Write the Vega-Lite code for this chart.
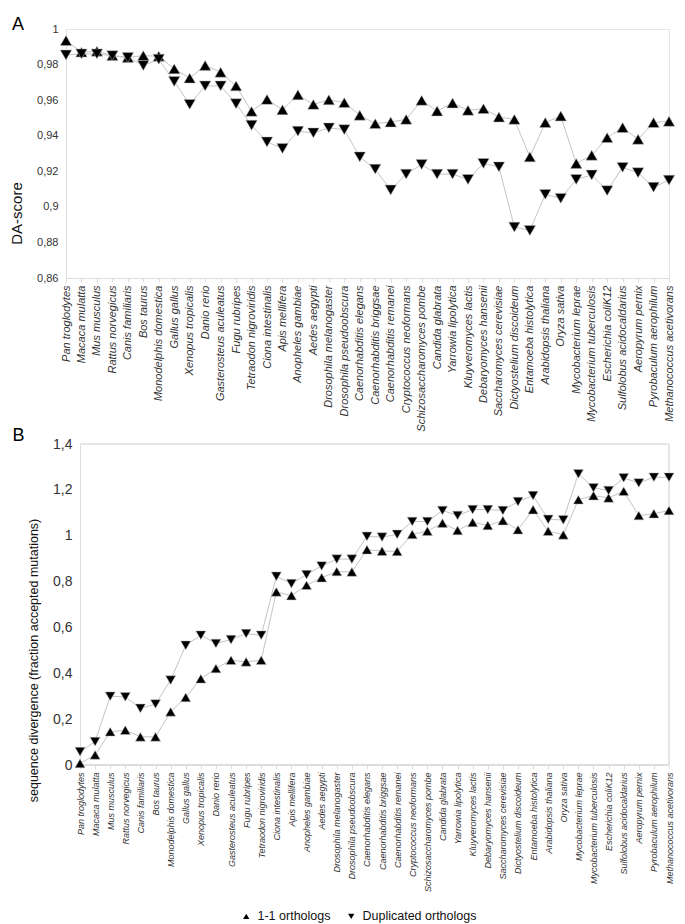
{
  "$schema": "https://vega.github.io/schema/vega-lite/v6.json",
  "background": "white",
  "padding": {"left": 9, "top": 15, "right": 5, "bottom": 5},
  "config": {
    "font": "Liberation Sans",
    "view": {"stroke": "#e6e6e6"},
    "axis": {"grid": false, "domainColor": "#dddddd", "tickColor": "#dddddd", "labelColor": "#333333", "titleColor": "#111111", "titleFontWeight": "normal"}
  },
  "datasets": {
    "da": [
      {"species": "Pan troglodytes", "type": "1-1 orthologs", "value": 0.9935},
      {"species": "Macaca mulatta", "type": "1-1 orthologs", "value": 0.987},
      {"species": "Mus musculus", "type": "1-1 orthologs", "value": 0.9875},
      {"species": "Rattus norvegicus", "type": "1-1 orthologs", "value": 0.985},
      {"species": "Canis familiaris", "type": "1-1 orthologs", "value": 0.984},
      {"species": "Bos taurus", "type": "1-1 orthologs", "value": 0.985},
      {"species": "Monodelphis domestica", "type": "1-1 orthologs", "value": 0.9847},
      {"species": "Gallus gallus", "type": "1-1 orthologs", "value": 0.9776},
      {"species": "Xenopus tropicalis", "type": "1-1 orthologs", "value": 0.9724},
      {"species": "Danio rerio", "type": "1-1 orthologs", "value": 0.9795},
      {"species": "Gasterosteus aculeatus", "type": "1-1 orthologs", "value": 0.9757},
      {"species": "Fugu rubripes", "type": "1-1 orthologs", "value": 0.968},
      {"species": "Tetraodon nigroviridis", "type": "1-1 orthologs", "value": 0.9537},
      {"species": "Ciona intestinalis", "type": "1-1 orthologs", "value": 0.9604},
      {"species": "Apis mellifera", "type": "1-1 orthologs", "value": 0.9546},
      {"species": "Anopheles gambiae", "type": "1-1 orthologs", "value": 0.963},
      {"species": "Aedes aegypti", "type": "1-1 orthologs", "value": 0.9576},
      {"species": "Drosophila melanogaster", "type": "1-1 orthologs", "value": 0.9602},
      {"species": "Drosophila pseudoobscura", "type": "1-1 orthologs", "value": 0.9586},
      {"species": "Caenorhabditis elegans", "type": "1-1 orthologs", "value": 0.9515},
      {"species": "Caenorhabditis briggsae", "type": "1-1 orthologs", "value": 0.9468},
      {"species": "Caenorhabditis remanei", "type": "1-1 orthologs", "value": 0.9477},
      {"species": "Cryptococcus neoformans", "type": "1-1 orthologs", "value": 0.9492},
      {"species": "Schizosaccharomyces pombe", "type": "1-1 orthologs", "value": 0.9599},
      {"species": "Candida glabrata", "type": "1-1 orthologs", "value": 0.9539},
      {"species": "Yarrowia lipolytica", "type": "1-1 orthologs", "value": 0.9584},
      {"species": "Kluyveromyces lactis", "type": "1-1 orthologs", "value": 0.9543},
      {"species": "Debaryomyces hansenii", "type": "1-1 orthologs", "value": 0.9552},
      {"species": "Saccharomyces cerevisiae", "type": "1-1 orthologs", "value": 0.9505},
      {"species": "Dictyostelium discoideum", "type": "1-1 orthologs", "value": 0.9492},
      {"species": "Entamoeba histolytica", "type": "1-1 orthologs", "value": 0.9281},
      {"species": "Arabidopsis thaliana", "type": "1-1 orthologs", "value": 0.9474},
      {"species": "Oryza sativa", "type": "1-1 orthologs", "value": 0.9511},
      {"species": "Mycobacterium leprae", "type": "1-1 orthologs", "value": 0.9244},
      {"species": "Mycobacterium tuberculosis", "type": "1-1 orthologs", "value": 0.929},
      {"species": "Escherichia coliK12", "type": "1-1 orthologs", "value": 0.9389},
      {"species": "Sulfolobus acidocaldarius", "type": "1-1 orthologs", "value": 0.9446},
      {"species": "Aeropyrum pernix", "type": "1-1 orthologs", "value": 0.938},
      {"species": "Pyrobaculum aerophilum", "type": "1-1 orthologs", "value": 0.9474},
      {"species": "Methanococcus acetivorans", "type": "1-1 orthologs", "value": 0.9481},
      {"species": "Pan troglodytes", "type": "Duplicated orthologs", "value": 0.9854},
      {"species": "Macaca mulatta", "type": "Duplicated orthologs", "value": 0.986},
      {"species": "Mus musculus", "type": "Duplicated orthologs", "value": 0.986},
      {"species": "Rattus norvegicus", "type": "Duplicated orthologs", "value": 0.985},
      {"species": "Canis familiaris", "type": "Duplicated orthologs", "value": 0.984},
      {"species": "Bos taurus", "type": "Duplicated orthologs", "value": 0.9795},
      {"species": "Monodelphis domestica", "type": "Duplicated orthologs", "value": 0.983},
      {"species": "Gallus gallus", "type": "Duplicated orthologs", "value": 0.9705},
      {"species": "Xenopus tropicalis", "type": "Duplicated orthologs", "value": 0.9576},
      {"species": "Danio rerio", "type": "Duplicated orthologs", "value": 0.968},
      {"species": "Gasterosteus aculeatus", "type": "Duplicated orthologs", "value": 0.968},
      {"species": "Fugu rubripes", "type": "Duplicated orthologs", "value": 0.958},
      {"species": "Tetraodon nigroviridis", "type": "Duplicated orthologs", "value": 0.9459},
      {"species": "Ciona intestinalis", "type": "Duplicated orthologs", "value": 0.9365},
      {"species": "Apis mellifera", "type": "Duplicated orthologs", "value": 0.9328},
      {"species": "Anopheles gambiae", "type": "Duplicated orthologs", "value": 0.9425},
      {"species": "Aedes aegypti", "type": "Duplicated orthologs", "value": 0.9416},
      {"species": "Drosophila melanogaster", "type": "Duplicated orthologs", "value": 0.9444},
      {"species": "Drosophila pseudoobscura", "type": "Duplicated orthologs", "value": 0.9434},
      {"species": "Caenorhabditis elegans", "type": "Duplicated orthologs", "value": 0.9281},
      {"species": "Caenorhabditis briggsae", "type": "Duplicated orthologs", "value": 0.9212},
      {"species": "Caenorhabditis remanei", "type": "Duplicated orthologs", "value": 0.9095},
      {"species": "Cryptococcus neoformans", "type": "Duplicated orthologs", "value": 0.9184},
      {"species": "Schizosaccharomyces pombe", "type": "Duplicated orthologs", "value": 0.9238},
      {"species": "Candida glabrata", "type": "Duplicated orthologs", "value": 0.9184},
      {"species": "Yarrowia lipolytica", "type": "Duplicated orthologs", "value": 0.9184},
      {"species": "Kluyveromyces lactis", "type": "Duplicated orthologs", "value": 0.9154},
      {"species": "Debaryomyces hansenii", "type": "Duplicated orthologs", "value": 0.9244},
      {"species": "Saccharomyces cerevisiae", "type": "Duplicated orthologs", "value": 0.9225},
      {"species": "Dictyostelium discoideum", "type": "Duplicated orthologs", "value": 0.8886},
      {"species": "Entamoeba histolytica", "type": "Duplicated orthologs", "value": 0.8867},
      {"species": "Arabidopsis thaliana", "type": "Duplicated orthologs", "value": 0.907},
      {"species": "Oryza sativa", "type": "Duplicated orthologs", "value": 0.9048},
      {"species": "Mycobacterium leprae", "type": "Duplicated orthologs", "value": 0.9154},
      {"species": "Mycobacterium tuberculosis", "type": "Duplicated orthologs", "value": 0.9179},
      {"species": "Escherichia coliK12", "type": "Duplicated orthologs", "value": 0.9091},
      {"species": "Sulfolobus acidocaldarius", "type": "Duplicated orthologs", "value": 0.9222},
      {"species": "Aeropyrum pernix", "type": "Duplicated orthologs", "value": 0.9192},
      {"species": "Pyrobaculum aerophilum", "type": "Duplicated orthologs", "value": 0.911},
      {"species": "Methanococcus acetivorans", "type": "Duplicated orthologs", "value": 0.915}
    ],
    "div": [
      {"species": "Pan troglodytes", "type": "1-1 orthologs", "value": 0.007},
      {"species": "Macaca mulatta", "type": "1-1 orthologs", "value": 0.044},
      {"species": "Mus musculus", "type": "1-1 orthologs", "value": 0.145},
      {"species": "Rattus norvegicus", "type": "1-1 orthologs", "value": 0.152},
      {"species": "Canis familiaris", "type": "1-1 orthologs", "value": 0.123},
      {"species": "Bos taurus", "type": "1-1 orthologs", "value": 0.123},
      {"species": "Monodelphis domestica", "type": "1-1 orthologs", "value": 0.232},
      {"species": "Gallus gallus", "type": "1-1 orthologs", "value": 0.295},
      {"species": "Xenopus tropicalis", "type": "1-1 orthologs", "value": 0.376},
      {"species": "Danio rerio", "type": "1-1 orthologs", "value": 0.421},
      {"species": "Gasterosteus aculeatus", "type": "1-1 orthologs", "value": 0.457},
      {"species": "Fugu rubripes", "type": "1-1 orthologs", "value": 0.45},
      {"species": "Tetraodon nigroviridis", "type": "1-1 orthologs", "value": 0.457},
      {"species": "Ciona intestinalis", "type": "1-1 orthologs", "value": 0.755},
      {"species": "Apis mellifera", "type": "1-1 orthologs", "value": 0.739},
      {"species": "Anopheles gambiae", "type": "1-1 orthologs", "value": 0.784},
      {"species": "Aedes aegypti", "type": "1-1 orthologs", "value": 0.817},
      {"species": "Drosophila melanogaster", "type": "1-1 orthologs", "value": 0.844},
      {"species": "Drosophila pseudoobscura", "type": "1-1 orthologs", "value": 0.842},
      {"species": "Caenorhabditis elegans", "type": "1-1 orthologs", "value": 0.939},
      {"species": "Caenorhabditis briggsae", "type": "1-1 orthologs", "value": 0.933},
      {"species": "Caenorhabditis remanei", "type": "1-1 orthologs", "value": 0.932},
      {"species": "Cryptococcus neoformans", "type": "1-1 orthologs", "value": 1.006},
      {"species": "Schizosaccharomyces pombe", "type": "1-1 orthologs", "value": 1.02},
      {"species": "Candida glabrata", "type": "1-1 orthologs", "value": 1.055},
      {"species": "Yarrowia lipolytica", "type": "1-1 orthologs", "value": 1.023},
      {"species": "Kluyveromyces lactis", "type": "1-1 orthologs", "value": 1.058},
      {"species": "Debaryomyces hansenii", "type": "1-1 orthologs", "value": 1.045},
      {"species": "Saccharomyces cerevisiae", "type": "1-1 orthologs", "value": 1.066},
      {"species": "Dictyostelium discoideum", "type": "1-1 orthologs", "value": 1.026},
      {"species": "Entamoeba histolytica", "type": "1-1 orthologs", "value": 1.114},
      {"species": "Arabidopsis thaliana", "type": "1-1 orthologs", "value": 1.02},
      {"species": "Oryza sativa", "type": "1-1 orthologs", "value": 1.004},
      {"species": "Mycobacterium leprae", "type": "1-1 orthologs", "value": 1.157},
      {"species": "Mycobacterium tuberculosis", "type": "1-1 orthologs", "value": 1.175},
      {"species": "Escherichia coliK12", "type": "1-1 orthologs", "value": 1.165},
      {"species": "Sulfolobus acidocaldarius", "type": "1-1 orthologs", "value": 1.194},
      {"species": "Aeropyrum pernix", "type": "1-1 orthologs", "value": 1.088},
      {"species": "Pyrobaculum aerophilum", "type": "1-1 orthologs", "value": 1.096},
      {"species": "Methanococcus acetivorans", "type": "1-1 orthologs", "value": 1.11},
      {"species": "Pan troglodytes", "type": "Duplicated orthologs", "value": 0.058},
      {"species": "Macaca mulatta", "type": "Duplicated orthologs", "value": 0.102},
      {"species": "Mus musculus", "type": "Duplicated orthologs", "value": 0.3},
      {"species": "Rattus norvegicus", "type": "Duplicated orthologs", "value": 0.297},
      {"species": "Canis familiaris", "type": "Duplicated orthologs", "value": 0.247},
      {"species": "Bos taurus", "type": "Duplicated orthologs", "value": 0.266},
      {"species": "Monodelphis domestica", "type": "Duplicated orthologs", "value": 0.37},
      {"species": "Gallus gallus", "type": "Duplicated orthologs", "value": 0.522},
      {"species": "Xenopus tropicalis", "type": "Duplicated orthologs", "value": 0.566},
      {"species": "Danio rerio", "type": "Duplicated orthologs", "value": 0.53},
      {"species": "Gasterosteus aculeatus", "type": "Duplicated orthologs", "value": 0.547},
      {"species": "Fugu rubripes", "type": "Duplicated orthologs", "value": 0.573},
      {"species": "Tetraodon nigroviridis", "type": "Duplicated orthologs", "value": 0.566},
      {"species": "Ciona intestinalis", "type": "Duplicated orthologs", "value": 0.823},
      {"species": "Apis mellifera", "type": "Duplicated orthologs", "value": 0.791},
      {"species": "Anopheles gambiae", "type": "Duplicated orthologs", "value": 0.83},
      {"species": "Aedes aegypti", "type": "Duplicated orthologs", "value": 0.868},
      {"species": "Drosophila melanogaster", "type": "Duplicated orthologs", "value": 0.898},
      {"species": "Drosophila pseudoobscura", "type": "Duplicated orthologs", "value": 0.898},
      {"species": "Caenorhabditis elegans", "type": "Duplicated orthologs", "value": 0.997},
      {"species": "Caenorhabditis briggsae", "type": "Duplicated orthologs", "value": 0.994},
      {"species": "Caenorhabditis remanei", "type": "Duplicated orthologs", "value": 1.006},
      {"species": "Cryptococcus neoformans", "type": "Duplicated orthologs", "value": 1.062},
      {"species": "Schizosaccharomyces pombe", "type": "Duplicated orthologs", "value": 1.062},
      {"species": "Candida glabrata", "type": "Duplicated orthologs", "value": 1.11},
      {"species": "Yarrowia lipolytica", "type": "Duplicated orthologs", "value": 1.088},
      {"species": "Kluyveromyces lactis", "type": "Duplicated orthologs", "value": 1.114},
      {"species": "Debaryomyces hansenii", "type": "Duplicated orthologs", "value": 1.114},
      {"species": "Saccharomyces cerevisiae", "type": "Duplicated orthologs", "value": 1.11},
      {"species": "Dictyostelium discoideum", "type": "Duplicated orthologs", "value": 1.149},
      {"species": "Entamoeba histolytica", "type": "Duplicated orthologs", "value": 1.175},
      {"species": "Arabidopsis thaliana", "type": "Duplicated orthologs", "value": 1.071},
      {"species": "Oryza sativa", "type": "Duplicated orthologs", "value": 1.069},
      {"species": "Mycobacterium leprae", "type": "Duplicated orthologs", "value": 1.27},
      {"species": "Mycobacterium tuberculosis", "type": "Duplicated orthologs", "value": 1.209},
      {"species": "Escherichia coliK12", "type": "Duplicated orthologs", "value": 1.197},
      {"species": "Sulfolobus acidocaldarius", "type": "Duplicated orthologs", "value": 1.252},
      {"species": "Aeropyrum pernix", "type": "Duplicated orthologs", "value": 1.23},
      {"species": "Pyrobaculum aerophilum", "type": "Duplicated orthologs", "value": 1.255},
      {"species": "Methanococcus acetivorans", "type": "Duplicated orthologs", "value": 1.255}
    ]
  },
  "spacing": -5,
  "resolve": {"scale": {"shape": "independent", "x": "independent", "y": "independent"}},
  "vconcat": [
    {
      "title": {"text": "A", "anchor": "start", "frame": "group", "fontSize": 18, "fontWeight": "normal", "color": "#000000", "dx": -54, "dy": 11, "offset": 0},
      "width": 603,
      "height": 249,
      "data": {"name": "da"},
      "encoding": {
        "x": {"field": "species", "type": "nominal", "sort": null, "scale": {"type": "point", "padding": 0},
          "axis": {"title": null, "labelAngle": -90, "labelFontStyle": "italic", "labelFontSize": 11, "labelOverlap": false, "labelPadding": 3, "tickSize": 4, "labelLimit": 300}},
        "y": {"field": "value", "type": "quantitative", "scale": {"domain": [0.86, 1], "nice": false, "zero": false},
          "axis": {"title": "DA-score", "titleFontSize": 15, "titleX": -49.5, "titleY": 184, "titleBaseline": "middle", "values": [0.86, 0.88, 0.9, 0.92, 0.94, 0.96, 0.98, 1], "labelExpr": "replace(format(datum.value, '.2~f'), '.', ',')", "labelFontSize": 11, "ticks": false, "labelPadding": 8}}
      },
      "layer": [
        {"mark": {"type": "line", "color": "#c4c4c4", "strokeWidth": 1}, "encoding": {"detail": {"field": "type"}}},
        {"mark": {"type": "point", "filled": true, "color": "#000000", "opacity": 1, "size": 130, "stroke": "#bbbbbb", "strokeWidth": 0.5},
          "encoding": {"shape": {"field": "type", "type": "nominal", "scale": {"domain": ["1-1 orthologs", "Duplicated orthologs"], "range": ["triangle-up", "triangle-down"]}, "legend": null}}}
      ]
    },
    {
      "title": {"text": "B", "orient": "left", "anchor": "end", "frame": "group", "angle": 0, "align": "left", "baseline": "top", "fontSize": 18, "fontWeight": "normal", "color": "#000000", "dx": -3, "dy": -17, "offset": 0},
      "width": 603,
      "height": 321,
      "view": {"stroke": null},
      "data": {"name": "div"},
      "encoding": {
        "x": {"field": "species", "type": "nominal", "sort": null,
          "scale": {"type": "point", "padding": 0, "range": [14, 603], "domain": ["Pan troglodytes", "Macaca mulatta", "Mus musculus", "Rattus norvegicus", "Canis familiaris", "Bos taurus", "Monodelphis domestica", "Gallus gallus", "Xenopus tropicalis", "Danio rerio", "Gasterosteus aculeatus", "Fugu rubripes", "Tetraodon nigroviridis", "Ciona intestinalis", "Apis mellifera", "Anopheles gambiae", "Aedes aegypti", "Drosophila melanogaster", "Drosophila pseudoobscura", "Caenorhabditis elegans", "Caenorhabditis briggsae", "Caenorhabditis remanei", "Cryptococcus neoformans", "Schizosaccharomyces pombe", "Candida glabrata", "Yarrowia lipolytica", "Kluyveromyces lactis", "Debaryomyces hansenii", "Saccharomyces cerevisiae", "Dictyostelium discoideum", "Entamoeba histolytica", "Arabidopsis thaliana", "Oryza sativa", "Mycobacterium leprae", "Mycobacterium tuberculosis", "Escherichia coliK12", "Sulfolobus acidocaldarius", "Aeropyrum pernix", "Pyrobaculum aerophilum", "Methanococcus acetivorans"]},
          "axis": {"title": null, "labelAngle": -90, "labelFontStyle": "italic", "labelFontSize": 9, "labelOverlap": false, "labelPadding": 3, "tickSize": 4, "labelLimit": 300, "domain": false}},
        "y": {"field": "value", "type": "quantitative", "scale": {"domain": [0, 1.4], "nice": false},
          "axis": {"title": "sequence divergence (fraction accepted mutations)", "offset": -14, "titleFontSize": 12.5, "titleX": -46.5, "titleY": 216, "titleBaseline": "middle", "values": [0, 0.2, 0.4, 0.6, 0.8, 1, 1.2, 1.4], "labelExpr": "replace(format(datum.value, '.1~f'), '.', ',')", "labelFontSize": 14, "ticks": false, "labelPadding": 8}}
      },
      "layer": [
        {"mark": {"type": "rule", "color": "#e6e6e6", "strokeWidth": 1}, "encoding": {"x": {"datum": "Pan troglodytes", "type": "nominal"}, "x2": {"datum": "Methanococcus acetivorans"}, "y": {"datum": 1.4, "type": "quantitative"}}},
        {"mark": {"type": "rule", "color": "#dddddd", "strokeWidth": 1}, "encoding": {"x": {"datum": "Pan troglodytes", "type": "nominal"}, "x2": {"datum": "Methanococcus acetivorans"}, "y": {"datum": 0, "type": "quantitative"}}},
        {"mark": {"type": "rule", "color": "#e6e6e6", "strokeWidth": 1}, "encoding": {"x": {"datum": "Methanococcus acetivorans", "type": "nominal"}, "y": {"datum": 0, "type": "quantitative"}, "y2": {"datum": 1.4}}},
        {"mark": {"type": "line", "color": "#c4c4c4", "strokeWidth": 1}, "encoding": {"detail": {"field": "type"}}},
        {"mark": {"type": "point", "filled": true, "color": "#000000", "opacity": 1, "size": 100, "stroke": "#bbbbbb", "strokeWidth": 0.5},
          "encoding": {"shape": {"field": "type", "type": "nominal", "scale": {"domain": ["1-1 orthologs", "Duplicated orthologs"], "range": ["triangle-up", "triangle-down"]},
            "legend": {"title": null, "orient": "none", "legendX": 174, "legendY": 466, "direction": "horizontal", "labelFontSize": 12.5, "labelColor": "#111111", "symbolSize": 40, "symbolFillColor": "#000000", "symbolStrokeColor": "#000000", "columnPadding": 14, "labelOffset": 5}}}}
      ]
    }
  ]
}
